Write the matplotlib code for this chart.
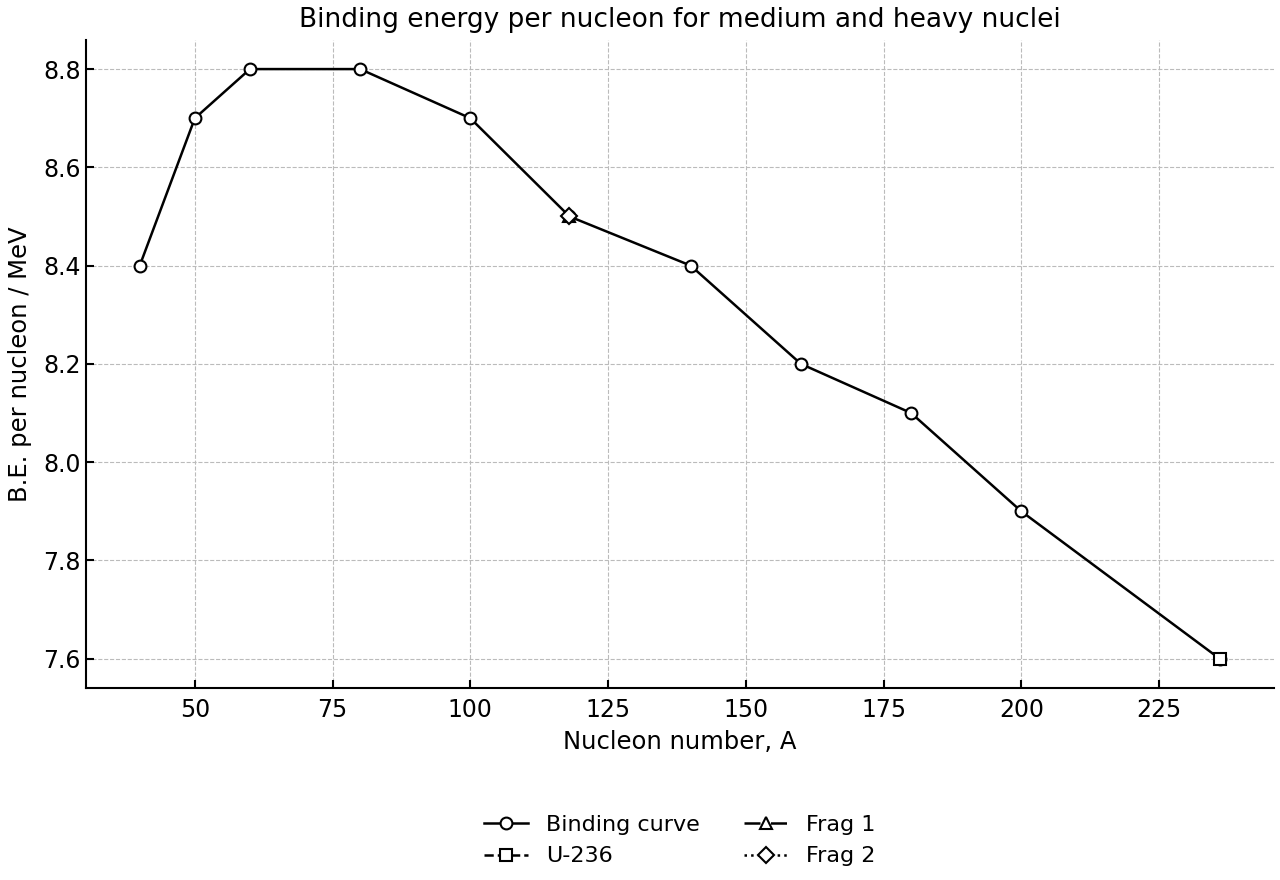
import matplotlib.pyplot as plt

A = [40, 50, 60, 80, 100, 118, 140, 160, 180, 200, 236]
be = [8.4, 8.7, 8.8, 8.8, 8.7, 8.5, 8.4, 8.2, 8.1, 7.9, 7.6]
u236 = ([236], [7.6])
frag1 = ([118], [8.5])
frag2 = ([118], [8.5])

fig, ax = plt.subplots(figsize=(12.8, 8.8), dpi=100)
mk = dict(color='black', markerfacecolor='white', markeredgecolor='black',
          markersize=8.5, markeredgewidth=1.5, linewidth=1.8)
ax.plot(A, be, '-', marker='o', label='Binding curve', **mk)
ax.plot(*u236, '--', marker='s', label='U-236', **mk)
ax.plot(*frag1, '-.', marker='^', label='Frag 1', **mk)
ax.plot(*frag2, ':', marker='D', label='Frag 2', **mk)

ax.set_title('Binding energy per nucleon for medium and heavy nuclei', fontsize=19, pad=9)
ax.set_xlabel('Nucleon number, A', fontsize=17.5, labelpad=6)
ax.set_ylabel('B.E. per nucleon / MeV', fontsize=17.5, labelpad=8)
ax.tick_params(direction='in', labelsize=17, width=1.5, length=6)
ax.tick_params(axis='x', pad=7)
ax.grid(True, linestyle='--', color='#bbbbbb', linewidth=0.8)
for s in ['top', 'right']:
    ax.spines[s].set_visible(False)
for s in ['left', 'bottom']:
    ax.spines[s].set_linewidth(1.5)

ax.legend(loc='upper center', bbox_to_anchor=(0.5, -0.165), ncol=2,
          frameon=False, fontsize=16, columnspacing=2.0)
fig.subplots_adjust(left=0.067, right=0.995, top=0.955, bottom=0.218)
fig.savefig('out.png', dpi=100)
